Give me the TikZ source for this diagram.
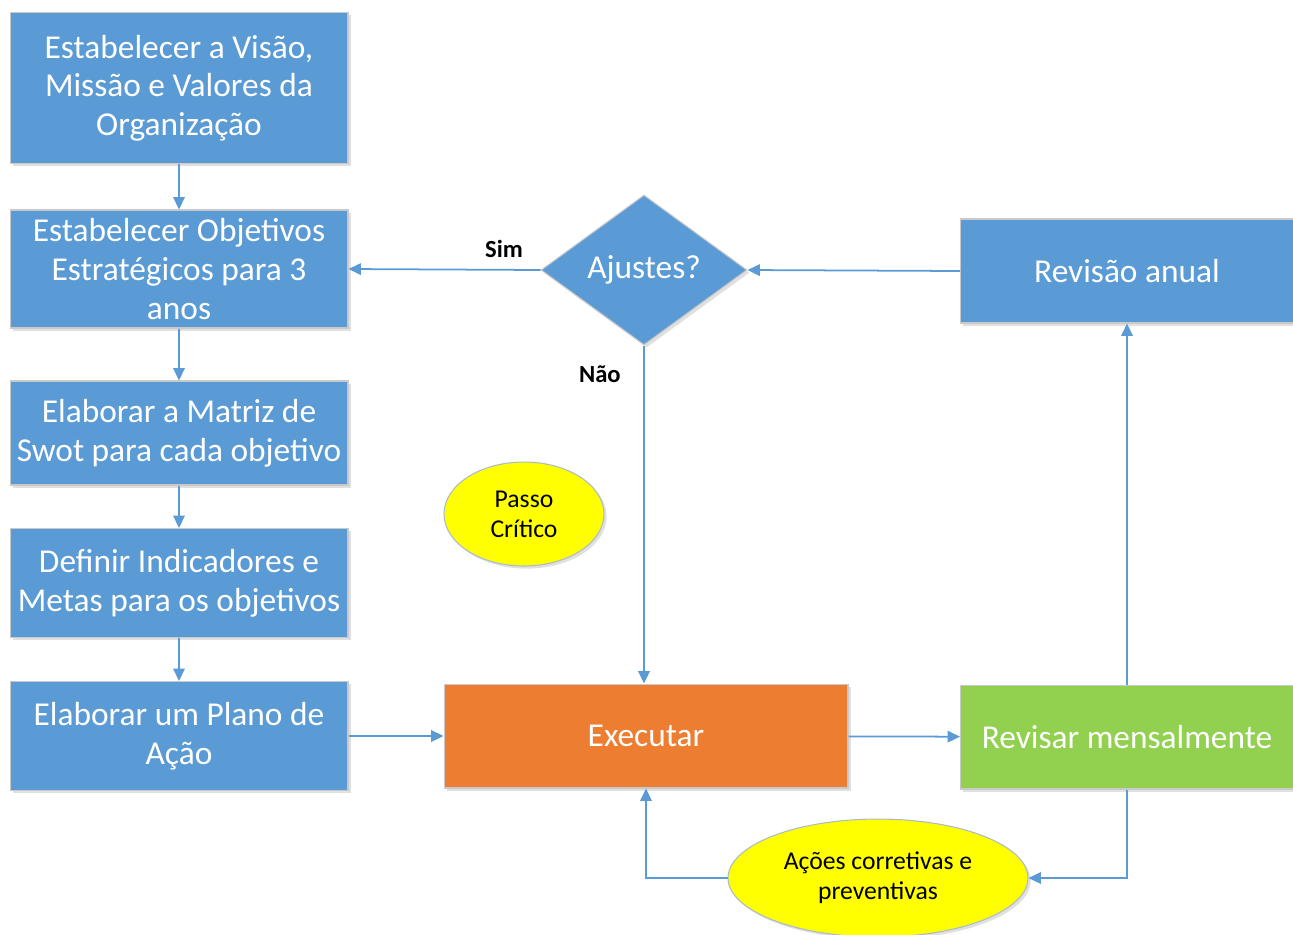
\documentclass[tikz,border=0pt]{standalone}
\usepackage{fontspec}
\setmainfont{Carlito}
\usetikzlibrary{shapes.geometric,arrows.meta,shadows}
\definecolor{boxblue}{HTML}{5B9BD5}
\definecolor{boxorange}{HTML}{ED7D31}
\definecolor{boxgreen}{HTML}{92D050}
\definecolor{notefill}{HTML}{FFFF00}
\definecolor{edgegray}{HTML}{C9C9C9}
\begin{document}
\begin{tikzpicture}[x=0.02cm,y=-0.02cm,
    boxshadow/.style={drop shadow={shadow xshift=1.5pt,shadow yshift=-1.5pt,opacity=.2,fill=black!60}},
    stepbox/.style={rectangle,fill=boxblue,draw=edgegray,line width=0.6pt,text=white,
      align=center,inner sep=0pt,minimum width=6.76cm,font=\fontsize{19}{22}\selectfont,boxshadow},
    decision/.style={diamond,fill=boxblue,draw=edgegray,line width=0.6pt,text=white,
      inner sep=0pt,aspect=1.37,minimum width=4.12cm,minimum height=3cm,
      font=\fontsize{19}{22}\selectfont,boxshadow},
    note/.style={ellipse,fill=notefill,draw=boxblue!50!gray!60,line width=0.6pt,
      align=center,inner sep=0pt,font=\fontsize{14.6}{17}\selectfont,boxshadow},
    flow/.style={draw=boxblue,line width=1pt,-{Triangle[length=7pt,width=6.5pt]}},
    lbl/.style={font=\fontsize{14}{17}\selectfont\bfseries,inner sep=0pt}]
  \useasboundingbox (0,0) rectangle (1293,934);
  \draw
    (179,88) node[stepbox,minimum height=3.02cm] (visao){Estabelecer a Visão,\\Missão e Valores da\\Organização}
    (179,269) node[stepbox,minimum height=2.36cm] (objetivos){Estabelecer Objetivos\\Estratégicos para 3\\anos}
    (179,433) node[stepbox,minimum height=2.08cm] (swot){Elaborar a Matriz de\\Swot para cada objetivo}
    (179,583) node[stepbox,minimum height=2.18cm] (metas){Definir Indicadores e\\Metas para os objetivos}
    (179,736) node[stepbox,minimum height=2.18cm] (plano){Elaborar um Plano de\\Ação}
    (646,736) node[stepbox,fill=boxorange,minimum width=8.08cm,minimum height=2.08cm] (executar){Executar}
    (1127,737) node[stepbox,fill=boxgreen,minimum width=6.66cm,minimum height=2.08cm] (mensal){Revisar mensalmente}
    (1127,271) node[stepbox,minimum width=6.66cm,minimum height=2.08cm] (anual){Revisão anual}
    (644,270) node[decision] (ajustes){Ajustes?}
    (524,514) node[note,minimum width=3.2cm,minimum height=2.08cm] (passo){Passo\\Crítico}
    (878,878) node[note,minimum width=6cm,minimum height=2.36cm] (acoes){Ações corretivas e\\preventivas};
  \begin{scope}[flow]
    \draw (visao) -- (objetivos);
    \draw (objetivos) -- (swot);
    \draw (swot) -- (metas);
    \draw (metas) -- (plano);
    \draw (plano) -- (executar);
    \draw (executar) -- (mensal);
    \draw (mensal.north) -- (anual.south);
    \draw (anual.west) -- (ajustes.east);
    \draw (ajustes.west) -- node[lbl,pos=0.19,above=0.22cm]{Sim} (objetivos.east);
    \draw (ajustes.south) -- node[lbl,pos=0.085,left=0.45cm]{Não} (ajustes.south |- executar.north);
    \draw (mensal.south) |- (acoes.east);
    \draw (acoes.west) -| (executar.south);
  \end{scope}
\end{tikzpicture}
\end{document}
